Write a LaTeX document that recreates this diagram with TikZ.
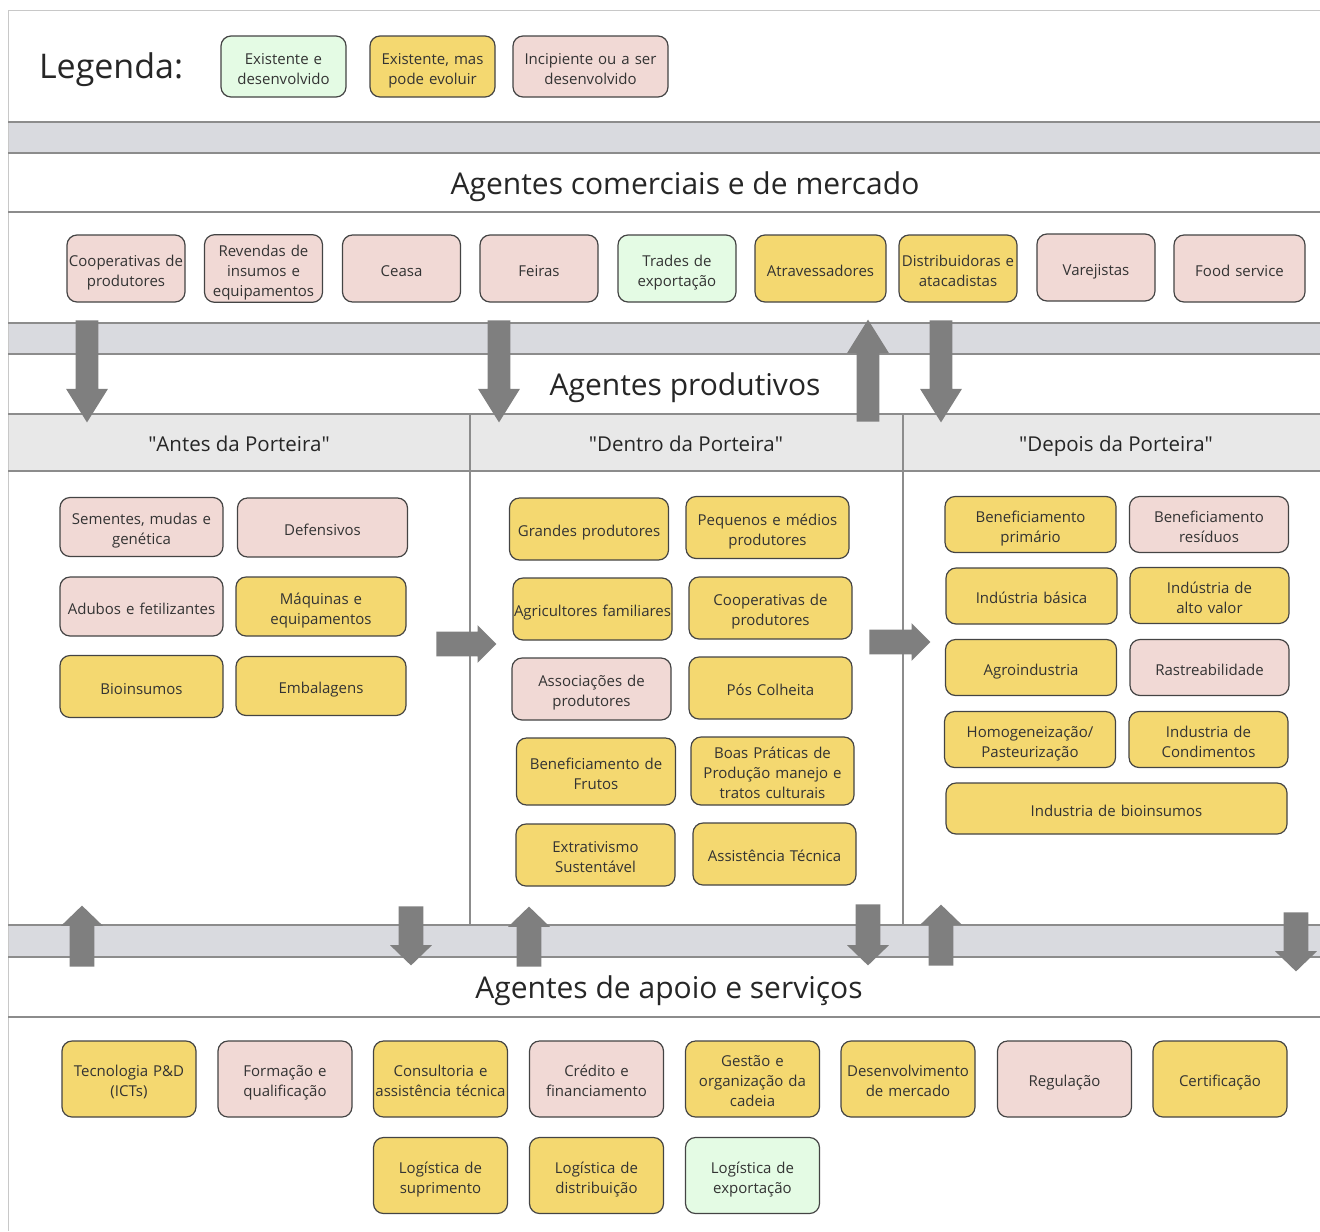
\documentclass[tikz,border=0pt]{standalone}
\usepackage{fontspec}
\setmainfont{Open Sans}
\usetikzlibrary{shapes.arrows}
\usepackage{xcolor}
\definecolor{verdeclaro}{RGB}{228,251,228}
\definecolor{amarelo}{RGB}{244,216,112}
\definecolor{rosado}{RGB}{241,217,213}
\definecolor{faixa}{RGB}{217,218,223}
\definecolor{cabecalho}{RGB}{232,232,232}
\definecolor{contorno}{RGB}{68,68,68}
\definecolor{moldura}{RGB}{200,200,200}
\definecolor{divisa}{RGB}{140,140,140}
\definecolor{cinzaseta}{RGB}{127,127,127}
\definecolor{texto}{RGB}{51,51,51}
\tikzset{agente/.style={rectangle, rounded corners=5pt, draw=contorno, line width=0.6pt, text=texto, align=center, inner xsep=0pt, inner ysep=1pt, font=\fontsize{7.5}{10}\selectfont, execute at begin node={\rule{0pt}{9.8pt}}, execute at end node={\rule[-2pt]{0pt}{0pt}}},
tamanho/.style 2 args={minimum width=#1, text width=#1, minimum height=#2},
desenvolvido/.style={agente, fill=verdeclaro},
evoluir/.style={agente, fill=amarelo},
incipiente/.style={agente, fill=rosado}}
\tikzset{titulo/.style={text=black!85, font=\fontsize{15}{18}\selectfont, text height=0.75em, text depth=0.25em},
subtitulo/.style={text=black!85, font=\fontsize{10.25}{12}\selectfont, text height=0.75em, text depth=0.25em},
setatopo/.style={single arrow, anchor=tail, fill=cinzaseta, draw=none, inner sep=0pt, text height=5.5pt, text depth=5.5pt, single arrow head extend=4.75pt, single arrow tip angle=64},
setabase/.style={single arrow, anchor=tail, fill=cinzaseta, draw=none, inner sep=0pt, text height=6pt, text depth=6pt, single arrow head extend=4.25pt, single arrow tip angle=92},
setalateral/.style={single arrow, anchor=tail, fill=cinzaseta, draw=none, inner sep=0pt, text height=6pt, text depth=6pt, single arrow head extend=3.25pt, single arrow tip angle=90}}

\begin{document}
\begin{tikzpicture}[x=0.5pt, y=-0.5pt,
                legenda/.style={tamanho={62.5pt}{30.5pt}},
                comercial/.style={tamanho={59pt}{33.5pt}},
                comerciallargo/.style={tamanho={65.5pt}{33.5pt}},
                antesesq/.style={tamanho={81.5pt}{29.5pt}},
                antesdir/.style={tamanho={85pt}{29.5pt}},
                dentroesq/.style={tamanho={79.5pt}{31pt}},
                dentrodir/.style={tamanho={81.5pt}{31pt}},
                depoisesq/.style={tamanho={85.5pt}{28pt}},
                depoisdir/.style={tamanho={79.5pt}{28pt}},
                apoio/.style={tamanho={67pt}{38pt}}
            ]
                \useasboundingbox (0,0) rectangle (1320,1231);

                % Frame and bands
                \fill[faixa] (8,122) rectangle (1320,153);
                \fill[faixa] (8,323) rectangle (1320,354);
                \fill[cabecalho] (8,414) rectangle (1320,471);
                \fill[faixa] (8,925) rectangle (1320,957);
                \draw[moldura] (1320,10) -- (8,10) -- (8,1231);
                \foreach \y in {122, 153, 212, 323, 354, 414, 471, 925, 957, 1017} {
\draw[divisa, line width=0.6pt] (8,\y) -- (1320,\y);
}
                \draw[divisa, line width=0.6pt] (470,414) -- (470,925);
                \draw[divisa, line width=0.6pt] (903,414) -- (903,925);

                % Titles
                \node[anchor=west, text=black!85, font=\fontsize{17}{20}\selectfont, text height=0.75em, text depth=0.25em] (legenda) at (32,73) {Legenda:};
                \node[titulo] (comerciais) at (685,189) {Agentes comerciais e de mercado};
                \node[titulo] (produtivos) at (685,390) {Agentes produtivos};
                \node[titulo] (apoiotit) at (669,993) {Agentes de apoio e serviços};
                \node[subtitulo] (antes) at (239,446) {\textquotedbl Antes da Porteira\textquotedbl};
                \node[subtitulo] (dentro) at (686,446) {\textquotedbl Dentro da Porteira\textquotedbl};
                \node[subtitulo] (depois) at (1116,446) {\textquotedbl Depois da Porteira\textquotedbl};

                % Legend
                \node[desenvolvido, legenda] (legverde) at (283.5,66.5) {Existente e\\desenvolvido};
                \node[evoluir, legenda] (legamarelo) at (432.5,66.5) {Existente, mas\\pode evoluir};
                \node[incipiente, tamanho={77.5pt}{30.5pt}] (legrosa) at (590.5,66.5) {Incipiente ou a ser\\desenvolvido};

                % Arrows
                \node[setatopo, minimum height=51pt, rotate=-90] (setacoop) at (87,320) {};
                \node[setatopo, minimum height=51pt, rotate=-90] (setafeiras) at (499,320) {};
                \node[setatopo, minimum height=51pt, rotate=90] (setaatrav) at (868,422) {};
                \node[setatopo, minimum height=51pt, rotate=-90] (setadistr) at (941,320) {};
                \node[setalateral, minimum height=30pt] (setaantes) at (436,644) {};
                \node[setalateral, minimum height=30.5pt] (setadentro) at (869,642) {};
                \node[setabase, minimum height=30.5pt, rotate=90] (setaapoio1) at (82,967) {};
                \node[setabase, minimum height=29.5pt, rotate=-90] (setaapoio2) at (411,906) {};
                \node[setabase, minimum height=30pt, rotate=90] (setaapoio3) at (529,967) {};
                \node[setabase, minimum height=30.5pt, rotate=-90] (setaapoio4) at (868,904) {};
                \node[setabase, minimum height=30.5pt, rotate=90] (setaapoio5) at (941,966) {};
                \node[setabase, minimum height=29.5pt, rotate=-90] (setaapoio6) at (1296,912) {};

                % Commercial agents
                \node[incipiente, comercial] (coopcom) at (126,268.5) {Cooperativas de\\produtores};
                \node[incipiente, comercial] (revendas) at (263.5,268.5) {Revendas de\\insumos e\\equipamentos};
                \node[incipiente, comercial] (ceasa) at (401.5,268.5) {Ceasa};
                \node[incipiente, comercial] (feiras) at (539,268.5) {Feiras};
                \node[desenvolvido, comercial] (trades) at (677,268.5) {Trades de\\exportação};
                \node[evoluir, comerciallargo] (atravessadores) at (820.5,268.5) {Atravessadores};
                \node[evoluir, comercial] (distribuidoras) at (958,268.5) {Distribuidoras e\\atacadistas};
                \node[incipiente, comercial] (varejistas) at (1096,267.5) {Varejistas};
                \node[incipiente, comerciallargo] (foodservice) at (1239.5,268.5) {Food service};

                % Before the gate
                \node[incipiente, antesesq] (sementes) at (141.5,527) {Sementes, mudas e\\genética};
                \node[incipiente, antesdir] (defensivos) at (322.5,527.5) {Defensivos};
                \node[incipiente, antesesq] (adubos) at (141.5,606.5) {Adubos e fetilizantes};
                \node[evoluir, antesdir] (maquinas) at (321,606.5) {Máquinas e\\equipamentos};
                \node[evoluir, antesesq, minimum height=31pt] (bioinsumos) at (141.5,686.5) {Bioinsumos};
                \node[evoluir, antesdir] (embalagens) at (321,686) {Embalagens};

                % Inside the gate
                \node[evoluir, dentroesq] (grandes) at (589,529) {Grandes produtores};
                \node[evoluir, dentrodir] (pequenos) at (767.5,527.5) {Pequenos e médios\\produtores};
                \node[evoluir, dentroesq] (familiares) at (592.5,609) {Agricultores familiares};
                \node[evoluir, dentrodir] (coopprod) at (770.5,608) {Cooperativas de\\produtores};
                \node[incipiente, dentroesq] (associacoes) at (591.5,689) {Associações de\\produtores};
                \node[evoluir, dentrodir] (poscolheita) at (770.5,688) {Pós Colheita};
                \node[evoluir, dentroesq, minimum height=33.5pt] (frutos) at (596,771.5) {Beneficiamento de\\Frutos};
                \node[evoluir, dentrodir, minimum height=34pt] (boaspraticas) at (772.5,771) {Boas Práticas de\\Produção manejo e\\tratos culturais};
                \node[evoluir, dentroesq] (extrativismo) at (595.5,855) {Extrativismo\\Sustentável};
                \node[evoluir, dentrodir] (assistencia) at (774.5,854) {Assistência Técnica};

                % After the gate
                \node[evoluir, depoisesq] (benefprim) at (1030.5,524.5) {Beneficiamento\\primário};
                \node[incipiente, depoisdir] (benefres) at (1209,524.5) {Beneficiamento\\resíduos};
                \node[evoluir, depoisesq] (basica) at (1031.5,596) {Indústria básica};
                \node[evoluir, depoisdir] (altovalor) at (1209.5,595.5) {Indústria de\\alto valor};
                \node[evoluir, depoisesq] (agroindustria) at (1031,667.5) {Agroindustria};
                \node[incipiente, depoisdir] (rastreabilidade) at (1209.5,667.5) {Rastreabilidade};
                \node[evoluir, depoisesq] (homogeneizacao) at (1030,739.5) {Homogeneização/\\Pasteurização};
                \node[evoluir, depoisdir] (condimentos) at (1208.5,739.5) {Industria de\\Condimentos};
                \node[evoluir, tamanho={170.5pt}{25.5pt}] (indbioinsumos) at (1116.5,808.5) {Industria de bioinsumos};

                % Support and services
                \node[evoluir, apoio] (tecnologia) at (129,1079) {Tecnologia P\&D\\(ICTs)};
                \node[incipiente, apoio] (formacao) at (285,1079) {Formação e\\qualificação};
                \node[evoluir, apoio] (consultoria) at (440.5,1079) {Consultoria e\\assistência técnica};
                \node[incipiente, apoio] (credito) at (596.5,1079) {Crédito e\\financiamento};
                \node[evoluir, apoio] (gestao) at (752.5,1079) {Gestão e\\organização da\\cadeia};
                \node[evoluir, apoio] (mercado) at (908,1079) {Desenvolvimento\\de mercado};
                \node[incipiente, apoio] (regulacao) at (1064.5,1079) {Regulação};
                \node[evoluir, apoio] (certificacao) at (1220,1079) {Certificação};
                \node[evoluir, apoio] (suprimento) at (440.5,1175.5) {Logística de\\suprimento};
                \node[evoluir, apoio] (distribuicao) at (596.5,1175.5) {Logística de\\distribuição};
                \node[desenvolvido, apoio] (exportacao) at (752.5,1175.5) {Logística de\\exportação};
            \end{tikzpicture}
\end{document}
